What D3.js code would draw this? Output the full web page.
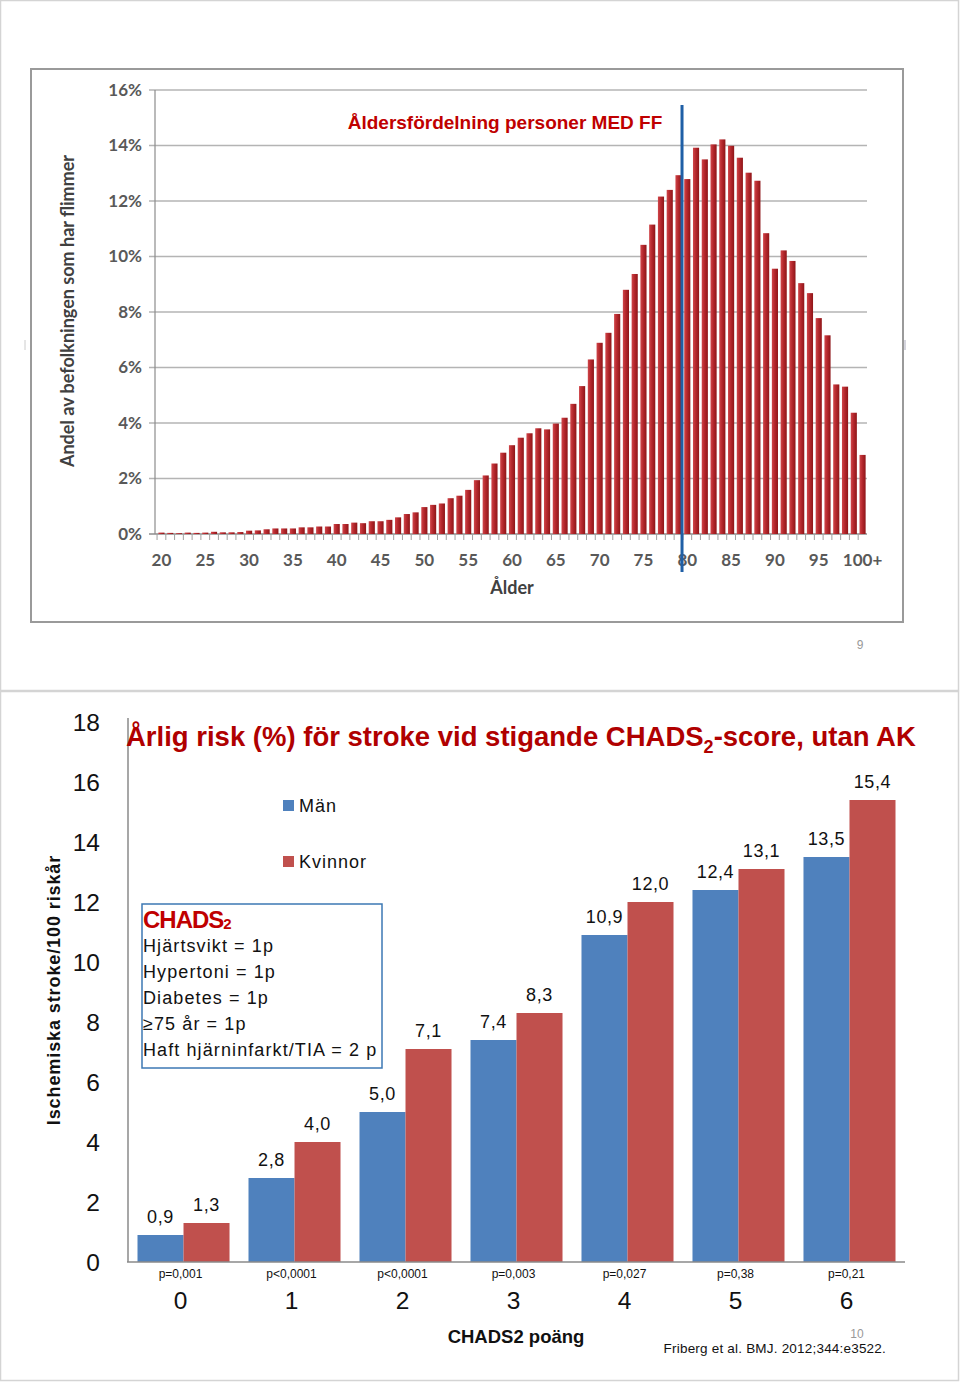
<!DOCTYPE html>
<html><head><meta charset="utf-8">
<script src="https://cdn.jsdelivr.net/npm/d3@7"></script>
<style>body{margin:0;background:#fff} svg{display:block}</style>
</head><body><svg id="c" width="960" height="1384"></svg>
<script>
// ---------- data: top chart (age distribution) ----------
const histAges = [20,21,22,23,24,25,26,27,28,29,30,31,32,33,34,35,36,37,38,39,40,41,42,43,44,45,46,47,48,49,50,51,52,53,54,55,56,57,58,59,60,61,62,63,64,65,66,67,68,69,70,71,72,73,74,75,76,77,78,79,80,81,82,83,84,85,86,87,88,89,90,91,92,93,94,95,96,97,98,99,100];
const histShare = [0.05,0.04,0.03,0.05,0.04,0.05,0.08,0.06,0.06,0.07,0.12,0.13,0.17,0.2,0.2,0.2,0.24,0.24,0.27,0.27,0.36,0.36,0.41,0.39,0.46,0.46,0.51,0.6,0.72,0.78,0.97,1.05,1.1,1.29,1.38,1.59,1.94,2.11,2.54,2.93,3.2,3.47,3.63,3.81,3.77,3.98,4.19,4.69,5.33,6.29,6.89,7.25,7.93,8.8,9.37,10.42,11.15,12.16,12.4,12.93,12.79,13.92,13.5,14.04,14.22,13.99,13.56,13.02,12.73,10.84,9.56,10.22,9.84,9.04,8.68,7.78,7.16,5.39,5.31,4.37,2.85];
const histTickAges = [20,25,30,35,40,45,50,55,60,65,70,75,80,85,90,95,100];
const histTickLabels = ["20","25","30","35","40","45","50","55","60","65","70","75","80","85","90","95","100+"];
const histYTicks = [0,2,4,6,8,10,12,14,16];
const markerAge = 79.4;

// ---------- data: bottom chart (CHADS2 risk) ----------
const chadsScores = ["0","1","2","3","4","5","6"];
const menRisk = [0.9,2.8,5.0,7.4,10.9,12.4,13.5];
const womenRisk = [1.3,4.0,7.1,8.3,12.0,13.1,15.4];
const pValues = ["p=0,001","p<0,0001","p<0,0001","p=0,003","p=0,027","p=0,38","p=0,21"];
const riskYTicks = [0,2,4,6,8,10,12,14,16,18];
const seriesNames = ["Män","Kvinnor"];
const chadsItems = ["Hjärtsvikt = 1p","Hypertoni = 1p","Diabetes = 1p","≥75 år = 1p","Haft hjärninfarkt/TIA = 2 p"];

const svg = d3.select("#c");
const fmt = v => d3.format(".1f")(v).replace(".", ",");

// slide borders
svg.append("rect").attr("x",0.5).attr("y",0.5).attr("width",958).attr("height",690)
  .attr("fill","none").attr("stroke","#d4d4d4").attr("stroke-width",1.5);
svg.append("rect").attr("x",0.5).attr("y",691.5).attr("width",958).attr("height",689)
  .attr("fill","none").attr("stroke","#d4d4d4").attr("stroke-width",1.5);
svg.append("line").attr("x1",25).attr("x2",25).attr("y1",340).attr("y2",350).attr("stroke","#ccc");
svg.append("line").attr("x1",905).attr("x2",905).attr("y1",340).attr("y2",350).attr("stroke","#aab");

// ================= TOP CHART =================
const gTop = svg.append("g");
gTop.append("rect").attr("x",31).attr("y",69).attr("width",872).attr("height",553)
  .attr("fill","#fff").attr("stroke","#9a9a9a").attr("stroke-width",2);

const defs = svg.append("defs");
const grad = defs.append("linearGradient").attr("id","barGrad").attr("x1","0").attr("x2","1").attr("y1","0").attr("y2","0");
grad.append("stop").attr("offset","0%").attr("stop-color","#d0464a");
grad.append("stop").attr("offset","45%").attr("stop-color","#b5282d");
grad.append("stop").attr("offset","100%").attr("stop-color","#8e1518");

const xH = d3.scaleBand().domain(histAges).range([157.5,866.5]).paddingInner(0.3).paddingOuter(0.1);
const yH = d3.scaleLinear().domain([0,16]).range([534,90]);

gTop.append("g").selectAll("line").data(histYTicks).join("line")
  .attr("x1",149).attr("x2",867).attr("y1",d=>yH(d)).attr("y2",d=>yH(d))
  .attr("stroke",d=>d===0?"#8c8c8c":"#b4b4b4").attr("stroke-width",1.5);
gTop.append("line").attr("x1",155).attr("x2",155).attr("y1",yH(16)).attr("y2",yH(0))
  .attr("stroke","#8c8c8c").attr("stroke-width",1.2);
gTop.append("g").selectAll("text").data(histYTicks).join("text")
  .attr("x",142).attr("y",d=>yH(d)).attr("dy","0.35em").attr("text-anchor","end")
  .attr("font-family","Lato").attr("font-weight","bold").attr("font-size",17).attr("fill","#595959")
  .text(d=>d+"%");

// x tick marks
const stepH = xH.step();
gTop.append("g").selectAll("line").data(histAges).join("line")
  .attr("x1",d=>xH(d)-stepH*0.15).attr("x2",d=>xH(d)-stepH*0.15)
  .attr("y1",534).attr("y2",540).attr("stroke","#a0a0a0").attr("stroke-width",1);

gTop.append("g").selectAll("rect").data(histAges).join("rect")
  .attr("x",d=>xH(d)).attr("width",xH.bandwidth())
  .attr("y",(d,i)=>yH(histShare[i])).attr("height",(d,i)=>yH(0)-yH(histShare[i]))
  .attr("fill","url(#barGrad)");

gTop.append("g").selectAll("text").data(histTickAges).join("text")
  .attr("x",d=>xH(d)+xH.bandwidth()/2).attr("y",566).attr("text-anchor","middle")
  .attr("font-family","Lato").attr("font-weight","bold").attr("font-size",17).attr("fill","#595959")
  .text((d,i)=>histTickLabels[i]);

gTop.append("text").attr("x",512).attr("y",594).attr("text-anchor","middle")
  .attr("font-family","Lato").attr("font-weight","bold").attr("font-size",18).attr("fill","#404040").text("Ålder");
gTop.append("text").attr("transform","translate(74,311) rotate(-90)").attr("text-anchor","middle")
  .attr("font-family","Lato").attr("font-weight","bold").attr("font-size",18).attr("fill","#404040")
  .text("Andel av befolkningen som har flimmer");
gTop.append("text").attr("x",505).attr("y",129).attr("text-anchor","middle")
  .attr("font-family","Liberation Sans").attr("font-weight","bold").attr("font-size",19).attr("fill","#c00000")
  .text("Åldersfördelning personer MED FF");

// marker line at ~80 years
const xMark = xH(79) + xH.bandwidth()/2 + (markerAge-79)*stepH;
gTop.append("line").attr("x1",xMark).attr("x2",xMark).attr("y1",105).attr("y2",572)
  .attr("stroke","#1f5fa6").attr("stroke-width",3);

svg.append("text").attr("x",860).attr("y",649).attr("text-anchor","middle")
  .attr("font-family","Liberation Sans").attr("font-size",12).attr("fill","#999").text("9");

// ================= BOTTOM CHART =================
const bot = svg.append("g");
const x0 = d3.scaleBand().domain(chadsScores).range([128,905]).paddingInner(0.171).paddingOuter(0.0856);
const x1 = d3.scaleBand().domain(seriesNames).range([0,x0.bandwidth()]);
const yR = d3.scaleLinear().domain([0,18]).range([1262,722]);
const colors = {"Män":"#4f81bd","Kvinnor":"#c0504d"};

bot.append("g").selectAll("text").data(riskYTicks).join("text")
  .attr("x",100).attr("y",d=>yR(d)).attr("dy","0.36em").attr("text-anchor","end")
  .attr("font-family","Liberation Sans").attr("font-size",24.5).attr("fill","#111").text(d=>d);

const groups = bot.append("g").selectAll("g").data(chadsScores).join("g")
  .attr("transform",d=>`translate(${x0(d)},0)`);
groups.selectAll("rect").data((d,i)=>[{s:"Män",v:menRisk[i]},{s:"Kvinnor",v:womenRisk[i]}]).join("rect")
  .attr("x",d=>x1(d.s)).attr("width",x1.bandwidth())
  .attr("y",d=>yR(d.v)).attr("height",d=>yR(0)-yR(d.v)).attr("fill",d=>colors[d.s]);
groups.selectAll("text").data((d,i)=>[{s:"Män",v:menRisk[i]},{s:"Kvinnor",v:womenRisk[i]}]).join("text")
  .attr("x",d=>x1(d.s)+x1.bandwidth()/2).attr("y",d=>yR(d.v)-12).attr("text-anchor","middle")
  .attr("font-family","Liberation Sans").attr("font-size",18).attr("letter-spacing",0.6).attr("fill","#111")
  .text(d=>fmt(d.v));

// axes lines
bot.append("line").attr("x1",128).attr("x2",128).attr("y1",718).attr("y2",1262).attr("stroke","#8a8a8a").attr("stroke-width",1.5);
bot.append("line").attr("x1",127).attr("x2",905).attr("y1",1262).attr("y2",1262).attr("stroke","#8a8a8a").attr("stroke-width",1.5);

bot.append("g").selectAll("text").data(chadsScores).join("text")
  .attr("x",d=>x0(d)+x0.bandwidth()/2-3).attr("y",1278).attr("text-anchor","middle")
  .attr("font-family","Liberation Sans").attr("font-size",12).attr("fill","#111").text((d,i)=>pValues[i]);
bot.append("g").selectAll("text").data(chadsScores).join("text")
  .attr("x",d=>x0(d)+x0.bandwidth()/2-3).attr("y",1309).attr("text-anchor","middle")
  .attr("font-family","Liberation Sans").attr("font-size",24.5).attr("fill","#111").text(d=>d);

bot.append("text").attr("x",516).attr("y",1343).attr("text-anchor","middle")
  .attr("font-family","Liberation Sans").attr("font-weight","bold").attr("font-size",18.5).attr("fill","#111")
  .text("CHADS2 poäng");
bot.append("text").attr("transform","translate(60,990) rotate(-90)").attr("text-anchor","middle")
  .attr("font-family","Liberation Sans").attr("font-weight","bold").attr("font-size",18).attr("letter-spacing",0.9).attr("fill","#111")
  .text("Ischemiska stroke/100 riskår");

// title
const title = bot.append("text").attr("x",126).attr("y",746)
  .attr("font-family","Liberation Sans").attr("font-weight","bold").attr("font-size",27.5).attr("fill","#b00000");
title.append("tspan").text("Årlig risk (%) för stroke vid stigande CHADS");
title.append("tspan").attr("dy",7).attr("font-size",18).text("2");
title.append("tspan").attr("dy",-7).text("-score, utan AK");

// legend
const leg = bot.append("g");
seriesNames.forEach((s,i)=>{
  leg.append("rect").attr("x",283).attr("y",800+i*56).attr("width",11).attr("height",11).attr("fill",colors[s]);
  leg.append("text").attr("x",299).attr("y",812+i*56).attr("font-family","Liberation Sans").attr("font-size",18)
    .attr("letter-spacing",1).attr("fill","#111").text(s);
});

// CHADS2 box
bot.append("rect").attr("x",142).attr("y",904).attr("width",240).attr("height",164)
  .attr("fill","#fff").attr("stroke","#3c78b4").attr("stroke-width",1.5);
const ch = bot.append("text").attr("x",143).attr("y",928).attr("font-family","Liberation Sans")
  .attr("font-weight","bold").attr("font-size",24).attr("fill","#c00000").attr("letter-spacing",-1);
ch.append("tspan").text("CHADS");
ch.append("tspan").attr("font-size",15).attr("dy",1).text("2");
bot.append("g").selectAll("text").data(chadsItems).join("text")
  .attr("x",143).attr("y",(d,i)=>952+i*26).attr("font-family","Liberation Sans").attr("font-size",18)
  .attr("letter-spacing",1.1).attr("fill","#111").text(d=>d);

svg.append("text").attr("x",857).attr("y",1338).attr("text-anchor","middle")
  .attr("font-family","Liberation Sans").attr("font-size",12).attr("fill","#999").text("10");
svg.append("text").attr("x",886).attr("y",1353).attr("text-anchor","end")
  .attr("font-family","Liberation Sans").attr("font-size",13.5).attr("fill","#111").attr("letter-spacing",0.2)
  .text("Friberg  et al. BMJ. 2012;344:e3522.");
</script></body></html>
